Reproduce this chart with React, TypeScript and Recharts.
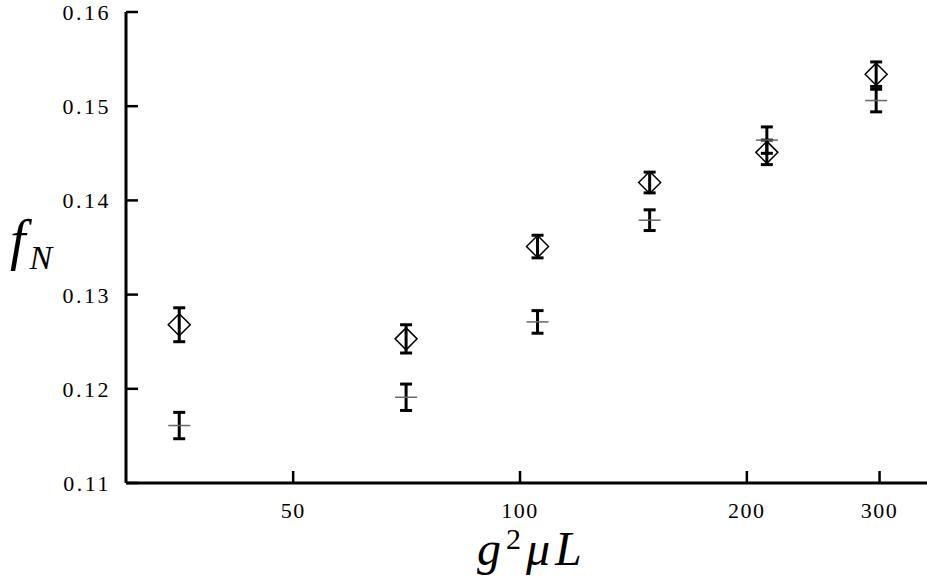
import { Scatter, ScatterChart, XAxis, YAxis, ErrorBar } from "recharts"

const gmuL = [35.3, 70.6, 105.5, 148.6, 212.6, 296.9]
const fDiamond = [0.1268, 0.1253, 0.1351, 0.1419, 0.1451, 0.1534]
const errDiamond = [0.0018, 0.0015, 0.0012, 0.0011, 0.0013, 0.0013]
const fPlus = [0.1161, 0.1191, 0.1271, 0.1379, 0.1464, 0.1506]
const errPlus = [0.0014, 0.0014, 0.0012, 0.0011, 0.0014, 0.0012]

const xTicks = [50, 100, 200, 300]
const yTicks = [0.11, 0.12, 0.13, 0.14, 0.15, 0.16]

const diamondData = gmuL.map((x, i) => ({ x, y: fDiamond[i], err: errDiamond[i] }))
const plusData = gmuL.map((x, i) => ({ x, y: fPlus[i], err: errPlus[i] }))

const serif = '"Liberation Serif", "DejaVu Serif", serif'

const renderXTick = (props: any) => {
  const { x, y, payload } = props
  return (
    <text
      key={`xt-${payload.value}`}
      x={x}
      y={y + 16}
      textAnchor="middle"
      fontFamily={serif}
      fontSize={22}
      letterSpacing={1.5}
      fill="#000"
    >
      {payload.value}
    </text>
  )
}

const renderYTick = (props: any) => {
  const { x, y, payload } = props
  return (
    <text
      key={`yt-${payload.value}`}
      x={x}
      y={y + 8}
      textAnchor="end"
      fontFamily={serif}
      fontSize={22}
      letterSpacing={2.5}
      fill="#000"
    >
      {Number(payload.value).toFixed(2)}
    </text>
  )
}

const Diamond = (props: any) => {
  const { cx, cy } = props
  const r = 11
  return (
    <polygon
      points={`${cx},${cy - r} ${cx + r},${cy} ${cx},${cy + r} ${cx - r},${cy}`}
      fill="none"
      stroke="#000"
      strokeWidth={1.5}
    />
  )
}

const Plus = (props: any) => {
  const { cx, cy } = props
  return <line x1={cx - 11} y1={cy} x2={cx + 11} y2={cy} stroke="#666" strokeWidth={1.5} />
}

export default function App() {
  return (
    <div
      style={{
        position: "absolute",
        left: 0,
        top: 0,
        width: 927,
        height: 578,
        overflow: "hidden",
        background: "#fff",
      }}
    >
      <ScatterChart width={935} height={578} margin={{ top: 12, right: 5, left: 0, bottom: 0 }}>
        <XAxis
          xAxisId="b"
          dataKey="x"
          type="number"
          scale="log"
          domain={[30, 350]}
          allowDataOverflow
          ticks={xTicks}
          height={95}
          tickSize={-12}
          tickMargin={31}
          tick={renderXTick}
          tickLine={{ stroke: "#000", strokeWidth: 2.5 }}
          axisLine={{ stroke: "#000", strokeWidth: 3 }}
          interval={0}
        />
        <XAxis
          xAxisId="t"
          orientation="top"
          dataKey="x"
          type="number"
          scale="log"
          domain={[30, 350]}
          allowDataOverflow
          ticks={xTicks}
          height={0}
          tickSize={-12}
          tickFormatter={() => ""}
          tickLine={{ stroke: "#000", strokeWidth: 2.5 }}
          axisLine={{ stroke: "#000", strokeWidth: 3 }}
          interval={0}
        />
        <YAxis
          yAxisId="l"
          dataKey="y"
          type="number"
          domain={[0.11, 0.16]}
          allowDataOverflow
          ticks={yTicks}
          width={126}
          tickSize={-12}
          tickMargin={27}
          tick={renderYTick}
          tickLine={{ stroke: "#000", strokeWidth: 2.5 }}
          axisLine={{ stroke: "#000", strokeWidth: 3 }}
          interval={0}
        />
        <YAxis
          yAxisId="r"
          orientation="right"
          dataKey="y"
          type="number"
          domain={[0.11, 0.16]}
          allowDataOverflow
          ticks={yTicks}
          width={0}
          tickSize={-12}
          tickFormatter={() => ""}
          tickLine={{ stroke: "#000", strokeWidth: 2.5 }}
          axisLine={{ stroke: "#000", strokeWidth: 3 }}
          interval={0}
        />
        <Scatter
          data={plusData}
          xAxisId="b"
          yAxisId="l"
          shape={<Plus />}
          isAnimationActive={false}
        >
          <ErrorBar dataKey="err" direction="y" width={6} stroke="#000" strokeWidth={3} />
        </Scatter>
        <Scatter
          data={diamondData}
          xAxisId="b"
          yAxisId="l"
          shape={<Diamond />}
          isAnimationActive={false}
        >
          <ErrorBar dataKey="err" direction="y" width={6} stroke="#000" strokeWidth={3} />
        </Scatter>
      </ScatterChart>
      <div
        style={{
          position: "absolute",
          left: 477,
          top: 525,
          fontFamily: serif,
          fontSize: 48,
          fontStyle: "italic",
          letterSpacing: 5,
          lineHeight: 1,
          whiteSpace: "nowrap",
        }}
      >
        g<sup style={{ fontSize: 30, fontStyle: "normal", verticalAlign: "0.55em", lineHeight: 0 }}>2</sup>μL
      </div>
      <div
        style={{
          position: "absolute",
          left: 10,
          top: 212,
          fontFamily: serif,
          fontSize: 56,
          fontStyle: "italic",
          lineHeight: 1,
          whiteSpace: "nowrap",
        }}
      >
        f
        <sub style={{ fontSize: 34, verticalAlign: "-0.3em", lineHeight: 0, marginLeft: 4 }}>N</sub>
      </div>
    </div>
  )
}
